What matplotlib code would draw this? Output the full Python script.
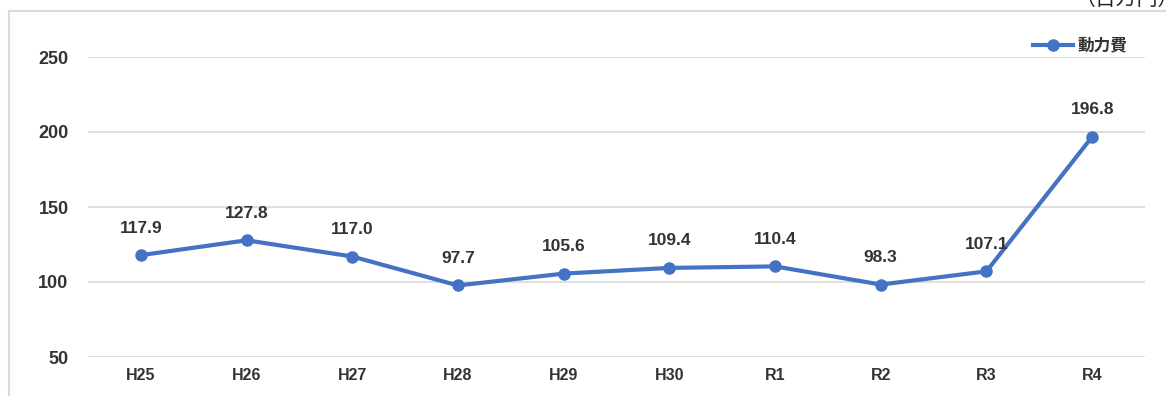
import matplotlib
matplotlib.use("Agg")
import matplotlib.pyplot as plt
from matplotlib.lines import Line2D

plt.rcParams['font.family'] = ['Liberation Sans', 'Noto Sans CJK JP', 'DejaVu Sans']

years = ["H25", "H26", "H27", "H28", "H29", "H30", "R1", "R2", "R3", "R4"]
power_cost = [117.9, 127.8, 117.0, 97.7, 105.6, 109.4, 110.4, 98.3, 107.1, 196.8]
series_name = "動力費"
unit_label = "（百万円）"
y_ticks = [50, 100, 150, 200, 250]

W, H = 1166, 396
fig = plt.figure(figsize=(W / 100, H / 100), dpi=100)

ax = fig.add_axes([88 / W, 1 - 357 / H, (1145 - 88) / W, (357 - 57) / H])

color = "#4472C4"
x = list(range(len(years)))
ax.plot(x, power_cost, color=color, lw=3, marker="o", ms=8, zorder=3,
        solid_capstyle="round")

for xi, v in zip(x, power_cost):
    ax.annotate(f"{v:.1f}", (xi, v), xytext=(0, 14), textcoords="offset points",
                ha="center", va="bottom", fontsize=12.5, fontweight="bold",
                color="#333333")

ax.set_xlim(-0.5, len(years) - 0.5)
ax.set_ylim(50, 250)
ax.set_yticks(y_ticks)
ax.set_xticks(x)
ax.set_xticklabels(years)
ax.grid(axis="y", color="#d9d9d9", lw=1.2)
ax.set_axisbelow(True)
for s in ax.spines.values():
    s.set_visible(False)
ax.tick_params(length=0, labelcolor="#333333")
ax.tick_params(axis="y", pad=14, labelsize=13)
ax.tick_params(axis="x", pad=8, labelsize=11.5)
for lab in ax.get_xticklabels() + ax.get_yticklabels():
    lab.set_fontweight("bold")

# outer chart frame (top and left edges)
fig.add_artist(Line2D([9 / W, 9 / W], [0, 1 - 11 / H], color="#d9d9d9", lw=1.5))
fig.add_artist(Line2D([9 / W, 1], [1 - 11 / H, 1 - 11 / H], color="#d9d9d9", lw=1.5))

# legend
ly = 1 - 45 / H
fig.add_artist(Line2D([1033 / W, 1073 / W], [ly, ly], color=color, lw=3))
fig.add_artist(Line2D([1053 / W], [ly], color=color, marker="o", ms=8, lw=0))
fig.text(1077 / W, ly, series_name, ha="left", va="center", fontsize=12,
         fontweight="bold", color="#333333", family=["Noto Sans CJK JP"])

fig.text(1075 / W, 1 + 1 / H, unit_label, ha="left", va="center", fontsize=15,
         color="#222222", family=["Noto Sans CJK JP"])

fig.savefig("out.png", dpi=100)
